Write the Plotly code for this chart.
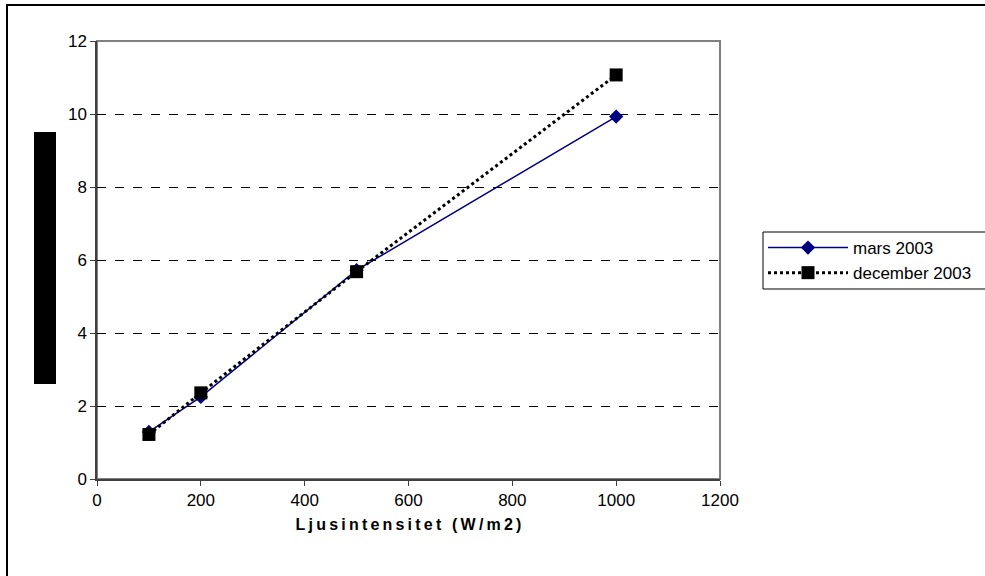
import plotly.graph_objects as go

x_vals = [100, 200, 500, 1000]
mars_2003 = [1.29, 2.25, 5.72, 9.93]
december_2003 = [1.22, 2.36, 5.68, 11.07]
x_ticks = [0, 200, 400, 600, 800, 1000, 1200]
y_ticks = [0, 2, 4, 6, 8, 10, 12]
x_title = "Ljusintensitet (W/m2)"

L, R, T, B = 97, 265, 41, 97
W, H = 985, 576
pw, ph = W - L - R, H - T - B

def px(xp):
    return (xp - L) / pw

def py(yp):
    return (H - B - yp) / ph

fig = go.Figure()
fig.add_trace(go.Scatter(
    x=x_vals, y=mars_2003, name="mars 2003", mode="lines+markers", legendgroup="a",
    line=dict(color="#000080", width=1.5),
    marker=dict(symbol="diamond", size=11, color="#000080"),
))
fig.add_trace(go.Scatter(
    x=x_vals, y=december_2003, name="december 2003", mode="lines+markers", legendgroup="b",
    line=dict(color="black", width=3, dash="dot"),
    marker=dict(symbol="square", size=13, color="black"),
))

shapes = [
    dict(type="rect", xref="paper", yref="paper", x0=px(7), x1=px(995), y0=py(585), y1=py(5),
         line=dict(color="black", width=2), fillcolor="rgba(0,0,0,0)", layer="below"),
    dict(type="rect", xref="paper", yref="paper", x0=0, x1=1, y0=0, y1=1,
         line=dict(color="#808080", width=2), fillcolor="rgba(0,0,0,0)", layer="below"),
    dict(type="rect", xref="paper", yref="paper", x0=px(34), x1=px(56), y0=py(384), y1=py(132),
         line=dict(width=0), fillcolor="black"),
    dict(type="rect", xref="paper", yref="paper", x0=px(763), x1=px(995), y0=py(289), y1=py(232),
         line=dict(color="black", width=1), fillcolor="white", layer="below"),
]

spaced_title = "\u2009".join(list(x_title))

fig.update_layout(
    width=W, height=H,
    margin=dict(l=L, r=R, t=T, b=B, autoexpand=False),
    paper_bgcolor="white", plot_bgcolor="white",
    font=dict(family="Liberation Sans, Arial, sans-serif", size=17, color="black"),
    shapes=shapes,
    showlegend=True,
    legend=dict(
        xref="container", yref="container",
        x=763 / W, y=1 - 230 / H, xanchor="left", yanchor="top",
        borderwidth=0, bgcolor="rgba(0,0,0,0)",
        font=dict(size=17), tracegroupgap=0, itemwidth=80,
    ),
    xaxis=dict(
        range=[0, 1200], tickvals=x_ticks, ticktext=[str(v) for v in x_ticks],
        showgrid=False, zeroline=False, showline=True, linecolor="#404040", linewidth=1.5,
        ticks="outside", ticklen=5, tickcolor="#404040", tickfont=dict(size=17),
        title=dict(text="<b>" + spaced_title + "</b>", font=dict(size=16), standoff=10),
    ),
    yaxis=dict(
        range=[0, 12], tickvals=y_ticks, ticktext=[str(v) for v in y_ticks],
        showgrid=True, gridcolor="black", griddash="dash", gridwidth=1,
        zeroline=False, showline=True, linecolor="#404040", linewidth=1.5,
        ticks="outside", ticklen=5, tickcolor="#404040", tickfont=dict(size=17),
    ),
)

fig.write_html("out.html")
